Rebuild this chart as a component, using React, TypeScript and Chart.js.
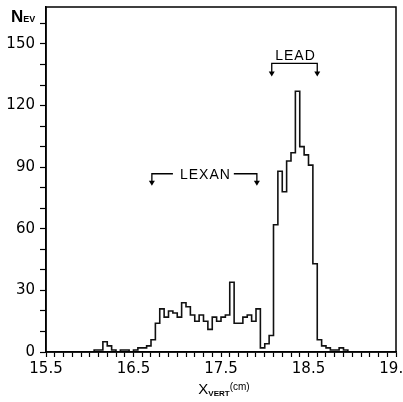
import React, { useEffect, useRef } from "react";
import { Chart, registerables } from "chart.js";

Chart.register(...registerables);

// ---- data ----
const BIN_START = 15.5;
const BIN_WIDTH = 0.05;
const COUNTS = [
  0, 0, 0, 0, 0, 0, 0, 0, 0, 0, // 15.50-16.00
  0, 1, 1, 5, 3, 1, 0, 1, 1, 0, // 16.00-16.50
  1, 2, 2, 3, 6, 14, 21, 17, 20, 19, // 16.50-17.00
  17, 24, 22, 18, 15, 18, 15, 11, 17, 15, // 17.00-17.50
  17, 18, 34, 14, 14, 17, 18, 15, 21, 2, // 17.50-18.00
  4, 8, 62, 88, 78, 93, 97, 127, 100, 96, // 18.00-18.50
  91, 43, 6, 3, 2, 1, 1, 2, 1, 0, // 18.50-19.00
  0, 0, 0, 0, 0, 0, 0, 0, 0, 0, // 19.00-19.50
];

const X_MIN = 15.5;
const X_MAX = 19.5;
const X_MAJOR_TICKS = [15.5, 16.5, 17.5, 18.5, 19.5];
const X_MINOR_STEP = 0.1;
const Y_MIN = 0;
const Y_MAX = 168;
const Y_MAJOR_TICKS = [0, 30, 60, 90, 120, 150];
const Y_MINOR_STEP = 10;

const BRACKET_LABELS = ["LEXAN", "LEAD"];
const BRACKET_MODE = ["inline", "above"];
const BRACKET_X_FROM = [16.71, 18.08];
const BRACKET_X_TO = [17.91, 18.6];
const BRACKET_Y = [86.8, 140.5];
const BRACKET_TIP_Y = [81.5, 134.6];

const FONT = '"Liberation Sans", Arial, Helvetica, sans-serif';

function makeTicks(min: number, max: number, step: number) {
  const out: number[] = [];
  const n = Math.round((max - min) / step);
  for (let i = 0; i <= n; i++) out.push(Math.round((min + i * step) * 1000) / 1000);
  return out;
}

const overlayPlugin = {
  id: "overlay",
  afterDatasetsDraw(chart: any) {
    const { ctx, chartArea } = chart;
    const xs = chart.scales.x;
    const ys = chart.scales.y;
    ctx.save();
    ctx.strokeStyle = "#000";
    ctx.fillStyle = "#000";
    ctx.lineWidth = 1.5;
    ctx.strokeRect(
      chartArea.left,
      chartArea.top,
      chartArea.right - chartArea.left,
      chartArea.bottom - chartArea.top
    );

    BRACKET_LABELS.forEach((label, i) => {
      const x1 = xs.getPixelForValue(BRACKET_X_FROM[i]);
      const x2 = xs.getPixelForValue(BRACKET_X_TO[i]);
      const yl = ys.getPixelForValue(BRACKET_Y[i]);
      const yt = ys.getPixelForValue(BRACKET_TIP_Y[i]);
      ctx.font = `14px ${FONT}`;
      (ctx as any).letterSpacing = "1px";
      const w = ctx.measureText(label).width;
      const cx = (x1 + x2) / 2;
      ctx.lineWidth = 1.3;
      ctx.beginPath();
      if (BRACKET_MODE[i] === "inline") {
        ctx.moveTo(x1, yt - 3);
        ctx.lineTo(x1, yl);
        ctx.lineTo(cx - w / 2 - 6, yl);
        ctx.moveTo(cx + w / 2 + 4, yl);
        ctx.lineTo(x2, yl);
        ctx.lineTo(x2, yt - 3);
      } else {
        ctx.moveTo(x1, yt - 3);
        ctx.lineTo(x1, yl);
        ctx.lineTo(x2, yl);
        ctx.lineTo(x2, yt - 3);
      }
      ctx.stroke();
      [x1, x2].forEach((ax) => {
        ctx.beginPath();
        ctx.moveTo(ax - 3, yt - 4);
        ctx.lineTo(ax + 3, yt - 4);
        ctx.lineTo(ax, yt + 1);
        ctx.closePath();
        ctx.fill();
      });
      ctx.textAlign = "center";
      if (BRACKET_MODE[i] === "inline") {
        ctx.textBaseline = "middle";
        ctx.fillText(label, cx + 1, yl + 1);
      } else {
        ctx.textBaseline = "alphabetic";
        ctx.fillText(label, cx + 1, yl - 3);
      }
      (ctx as any).letterSpacing = "0px";
    });

    // y-axis title N_EV
    ctx.textAlign = "left";
    ctx.textBaseline = "alphabetic";
    ctx.font = `bold 17px ${FONT}`;
    ctx.fillText("N", 11, 22);
    const wN = ctx.measureText("N").width;
    ctx.font = `bold 9px ${FONT}`;
    ctx.fillText("EV", 11 + wN, 22);

    // x-axis title X_VERT(cm)
    ctx.font = `15px ${FONT}`;
    const wX = ctx.measureText("X").width;
    ctx.font = `bold 8px ${FONT}`;
    const wV = ctx.measureText("VERT").width;
    ctx.font = `10px ${FONT}`;
    const wC = ctx.measureText("(cm)").width;
    const total = wX + wV + wC;
    let tx = (chartArea.left + chartArea.right) / 2 - total / 2 + 3;
    ctx.font = `15px ${FONT}`;
    ctx.fillText("X", tx, 394);
    tx += wX;
    ctx.font = `bold 8px ${FONT}`;
    ctx.fillText("VERT", tx, 396);
    tx += wV;
    ctx.font = `10px ${FONT}`;
    ctx.fillText("(cm)", tx, 390);
    ctx.restore();
  },
};

export default function App() {
  const canvasRef = useRef<HTMLCanvasElement | null>(null);

  useEffect(() => {
    if (!canvasRef.current) return;
    const points = COUNTS.map((c, i) => ({ x: BIN_START + i * BIN_WIDTH, y: c }));
    points.push({
      x: BIN_START + COUNTS.length * BIN_WIDTH,
      y: COUNTS[COUNTS.length - 1],
    });
    const xTicks = makeTicks(X_MIN, X_MAX, X_MINOR_STEP);
    const yTicks = makeTicks(Y_MIN, 160, Y_MINOR_STEP);

    const chart = new Chart(canvasRef.current, {
      type: "line",
      data: {
        datasets: [
          {
            data: points,
            stepped: true,
            borderColor: "#111",
            borderWidth: 1.6,
            pointRadius: 0,
            fill: false,
          },
        ],
      },
      options: {
        animation: false,
        responsive: true,
        maintainAspectRatio: false,
        layout: { padding: { left: 0, right: 7, top: 7, bottom: 0 } },
        plugins: {
          legend: { display: false },
          tooltip: { enabled: false },
        },
        scales: {
          x: {
            type: "linear",
            min: X_MIN,
            max: X_MAX,
            afterBuildTicks: (scale: any) => {
              scale.ticks = xTicks.map((v) => ({ value: v }));
            },
            afterFit: (scale: any) => {
              scale.height = 50;
              scale.paddingLeft = 0;
              scale.paddingRight = 0;
            },
            grid: {
              display: true,
              drawOnChartArea: false,
              drawTicks: true,
              tickLength: 5,
              tickColor: "#000",
              tickWidth: 1.2,
            },
            border: { display: true, color: "#000", width: 1.5 },
            ticks: {
              autoSkip: false,
              maxRotation: 0,
              minRotation: 0,
              padding: 3,
              color: "#000",
              font: { family: '"DejaVu Sans", sans-serif', size: 15 },
              callback: (value: any) =>
                X_MAJOR_TICKS.some((m) => Math.abs(m - Number(value)) < 1e-6)
                  ? Number(value).toFixed(1)
                  : "",
            },
          },
          y: {
            type: "linear",
            min: Y_MIN,
            max: Y_MAX,
            afterBuildTicks: (scale: any) => {
              scale.ticks = yTicks.map((v) => ({ value: v }));
            },
            afterFit: (scale: any) => {
              scale.width = 46;
              scale.paddingTop = 0;
              scale.paddingBottom = 0;
            },
            grid: {
              display: true,
              drawOnChartArea: false,
              drawTicks: true,
              tickLength: 6,
              tickColor: "#000",
              tickWidth: 1.2,
            },
            border: { display: true, color: "#000", width: 1.5 },
            ticks: {
              autoSkip: false,
              padding: 5,
              color: "#000",
              font: { family: '"DejaVu Sans", sans-serif', size: 15 },
              callback: (value: any) =>
                Y_MAJOR_TICKS.includes(Number(value)) ? String(value) : "",
            },
          },
        },
      },
      plugins: [overlayPlugin],
    } as any);
    return () => chart.destroy();
  }, []);

  return (
    <div
      style={{
        position: "fixed",
        left: 0,
        top: 0,
        width: 403,
        height: 402,
        background: "#fff",
      }}
    >
      <canvas ref={canvasRef} />
    </div>
  );
}
